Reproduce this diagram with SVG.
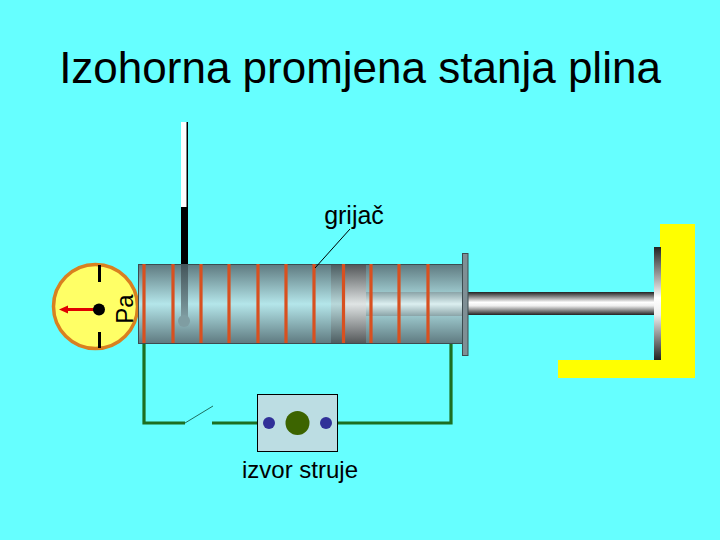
<svg xmlns="http://www.w3.org/2000/svg" width="720" height="540" viewBox="0 0 720 540">
<style>
text{font-family:"Liberation Sans",Arial,sans-serif;fill:#000}
.wire{fill:none;stroke:#1d6f22;stroke-width:3.2}
.coil{stroke:#d8501f;stroke-width:3.2;fill:none}
</style>
<defs>
<linearGradient id="cyl" x1="0" y1="0" x2="0" y2="1"><stop offset="0" stop-color="#5f7a80"/><stop offset=".5" stop-color="#b4e6ea"/><stop offset="1" stop-color="#5f7a80"/></linearGradient>
<linearGradient id="pis" x1="0" y1="0" x2="0" y2="1"><stop offset="0" stop-color="#55585a"/><stop offset=".5" stop-color="#dfe4e4"/><stop offset="1" stop-color="#55585a"/></linearGradient>
<linearGradient id="pis2" x1="0" y1="0" x2="0" y2="1"><stop offset="0" stop-color="#4e5e62"/><stop offset=".5" stop-color="#b8d8da"/><stop offset="1" stop-color="#4e5e62"/></linearGradient>
<linearGradient id="inner" x1="0" y1="0" x2="0" y2="1"><stop offset="0" stop-color="#8aa4a8"/><stop offset=".5" stop-color="#dceff0"/><stop offset="1" stop-color="#8aa4a8"/></linearGradient>
<linearGradient id="rod" x1="0" y1="0" x2="0" y2="1"><stop offset="0" stop-color="#222"/><stop offset=".45" stop-color="#fff"/><stop offset=".6" stop-color="#eee"/><stop offset="1" stop-color="#222"/></linearGradient>
<linearGradient id="stem" x1="0" y1="0" x2="0" y2="1"><stop offset="0" stop-color="#44555a"/><stop offset="1" stop-color="#7f9da2"/></linearGradient>
</defs>
<rect width="720" height="540" fill="#66ffff"/>
<text x="360" y="83" font-size="44" text-anchor="middle">Izohorna promjena stanja plina</text>
<g id="stand"><path d="M660 224H695V378H558V360H660Z" fill="#ffff00"/></g>
<g id="rod-piston">
<rect x="468" y="292" width="187" height="23" fill="url(#rod)"/>
<rect x="654" y="247" width="7" height="113" fill="url(#rod)"/>
</g>
<g id="gauge">
<circle cx="95.500" cy="306.500" r="42" fill="#ffff66" stroke="#d98020" stroke-width="3.500"/>
<path d="M99.500 265V282M99.500 332V348" stroke="#000" stroke-width="3" fill="none"/>
<path d="M99 309.500H66" stroke="#e00000" stroke-width="3" fill="none"/>
<path d="M59 309.500L68 305.500V313.500Z" fill="#e00000"/>
<circle cx="99" cy="309.500" r="6" fill="#000"/>
<text transform="translate(132.500 309) rotate(-90)" font-size="24" text-anchor="middle">Pa</text>
</g>
<g id="cylinder">
<rect x="138.500" y="264.500" width="324" height="79" fill="url(#cyl)" stroke="#3c4c50" stroke-width="1"/>
<rect x="366" y="292" width="96" height="24" fill="url(#inner)"/>
<rect x="331" y="265" width="15" height="78" fill="url(#pis2)"/>
<rect x="345" y="265" width="21" height="78" fill="url(#pis)"/>
<rect x="462.500" y="253.500" width="5.500" height="102" fill="#7f8f95" stroke="#3c4c50" stroke-width="1"/>
</g>
<g id="thermometer">
<rect x="181" y="122" width="7" height="85" fill="#fff"/>
<rect x="186.500" y="122" width="1.500" height="85" fill="#000"/>
<rect x="181" y="207" width="7" height="57" fill="#000"/>
<rect x="181" y="264" width="7" height="54" fill="url(#stem)"/>
<circle cx="184" cy="321" r="6" fill="#7f9da2"/>
</g>
<g id="heater">
<path class="coil" d="M144 264V343M173 264V343M201 264V343M229 264V343M258 264V343M286 264V343M314 264V343M343.500 264V343M371 264V343M399 264V343M428 264V343"/>
<path d="M350 229L315 268" stroke="#000" stroke-width="1" fill="none"/>
<text x="354" y="224" font-size="25" text-anchor="middle">grijač</text>
</g>
<g id="connectors">
<path class="wire" d="M144 344V423H185"/>
<path d="M185 423L213 406" stroke="#1d6f60" stroke-width="1" fill="none"/>
<path class="wire" d="M212 423H258"/>
<path class="wire" d="M337 423H451V344"/>
</g>
<g id="source">
<rect x="257.500" y="394.500" width="80" height="57" fill="#bcdde3" stroke="#000" stroke-width="1"/>
<circle cx="269" cy="423" r="6" fill="#303098"/>
<circle cx="326" cy="423" r="6" fill="#303098"/>
<circle cx="297.500" cy="423" r="12" fill="#3c6400"/>
<text x="300" y="478" font-size="24" text-anchor="middle">izvor struje</text>
</g>
</svg>
